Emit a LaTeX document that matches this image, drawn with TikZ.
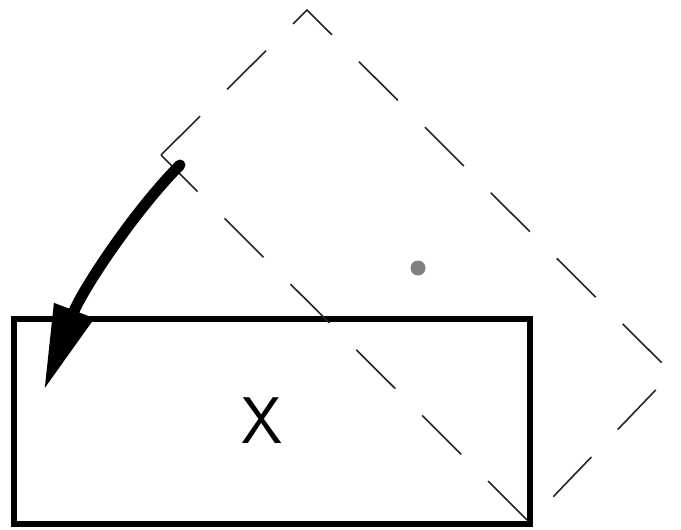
\documentclass[tikz,border=0pt]{standalone}
\usetikzlibrary{arrows.meta}
\begin{document}
\begin{tikzpicture}[x=1pt,y=-1pt,
  solidbox/.style={draw=black,line width=6pt},
  ghostbox/.style={draw=black!85,line width=1.6pt,dash pattern=on 55pt off 38pt},
  turnarrow/.style={draw=black,line width=11pt,line cap=round,-{Triangle[length=85pt,width=40pt]}}]
\useasboundingbox (0,0) rectangle (681,530);
% solid rectangle
\coordinate (A1) at (14,319);
\coordinate (A2) at (530,319);
\coordinate (A3) at (530,524);
\coordinate (A4) at (14,524);
\draw[solidbox] (A1) -- (A2) -- (A3) -- (A4) -- cycle;
% rotated dashed rectangle
\coordinate (B1) at (529,522);
\coordinate (B2) at (161,155);
\coordinate (B3) at (307,10);
\coordinate (B4) at (672,373);
\draw[ghostbox] (B2) -- (B3) -- (B4) -- (B1) -- cycle;
% centre dot
\node[circle,fill=black!50,inner sep=0pt,minimum size=15pt] (dot) at (418,268) {};
% label
\node[font=\sffamily\fontsize{66}{70}\selectfont] (lbl) at (262,421) {X};
% arrow
\coordinate (s) at (180,165);
\coordinate (e) at (44,390);
\draw[turnarrow] (s) .. controls (135,210) and (82,290) .. (e);
\end{tikzpicture}
\end{document}
